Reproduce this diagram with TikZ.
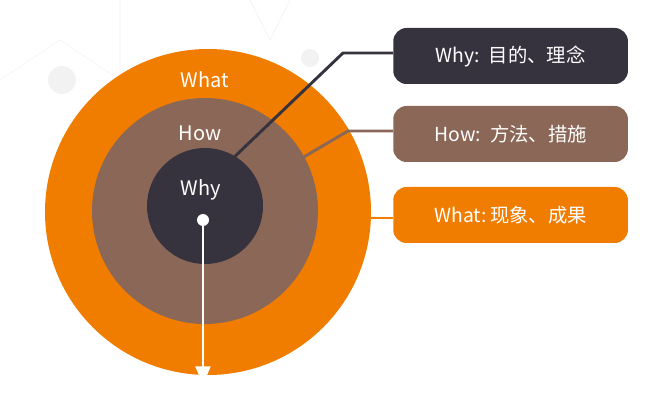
\documentclass[tikz,border=0pt]{standalone}
\usepackage{fontspec}
\setmainfont{Noto Sans CJK SC}
\usetikzlibrary{arrows.meta,positioning}
\definecolor{whyc}{HTML}{36333F}
\definecolor{howc}{HTML}{8B6757}
\definecolor{whatc}{HTML}{F07D00}
\tikzset{
  tagbox/.style={rounded corners=10pt,minimum width=176pt,minimum height=42pt,
    text=white,font=\fontsize{14.5}{16}\selectfont,anchor=west,inner sep=0pt},
  ringlabel/.style={text=white,font=\fontsize{15}{17}\selectfont},
  lead/.style={line width=2.2pt,line join=round}
}
\begin{document}
\begin{tikzpicture}[x=0.75pt,y=-0.75pt]
  % frame
  \useasboundingbox (0,0) rectangle (659,409);
  \begin{scope}
  \clip (0,0) rectangle (659,409);
  % faint background net
  \draw[gray!12,thin] (0,80) -- (60,40) -- (120,80) -- (120,0);
  \draw[gray!12,thin] (290,0) -- (270,40) -- (250,0);
  \fill[gray!10] (62,80) circle (14);
  \fill[gray!10] (310,58) circle (9);
  % rings
  \node[circle,fill=whatc,minimum size=326*0.75pt,inner sep=0pt] (what) at (208,212) {};
  \node[circle,fill=howc,minimum size=226*0.75pt,inner sep=0pt] (how) at (205,211) {};
  \node[circle,fill=whyc,minimum size=116*0.75pt,inner sep=0pt] (why) at (205,206) {};
  \end{scope}
  % ring labels
  \node[ringlabel] (whatlbl) at (205,80) {What};
  \node[ringlabel] (howlbl) at (200,133) {How};
  \node[ringlabel] (whylbl) at (201,190) {Why};
  % boxes
  \node[tagbox,fill=whyc] (whybox) at (393,56) {Why:\, 目的、理念};
  \node[tagbox,fill=howc] (howbox) at (393,134) {How:\, 方法、措施};
  \node[tagbox,fill=whatc] (whatbox) at (393,215) {What:\,现象、成果};
  % leaders
  \coordinate (whyk) at (343,53);
  \coordinate (howk) at (348,131);
  \draw[lead,whyc] (228,163) -- (whyk) -- (whyk -| whybox.west);
  \draw[lead,howc] (302,158) -- (howk) -- (howk -| howbox.west);
  \draw[lead,whatc] (370,218) -- (whatbox.west |- 0,218);
  % axis arrow
  \coordinate (dot) at (203,220);
  \coordinate (tip) at (203,385);
  \draw[white,line width=2.2pt,-{Triangle[length=14pt,width=11pt]}] (dot) -- (tip);
  \fill[white] (dot) circle (6);
\end{tikzpicture}
\end{document}
